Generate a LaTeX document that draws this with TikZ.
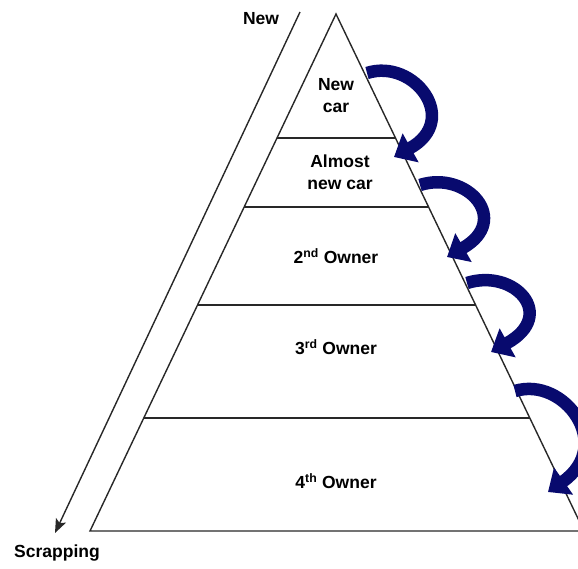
\documentclass[tikz,border=0pt]{standalone}
\usepackage{fontspec}
\setmainfont{Liberation Sans}
\usetikzlibrary{arrows.meta}
\definecolor{navyarrow}{RGB}{8,10,110}
\definecolor{edgegray}{RGB}{40,40,40}
\begin{document}
\begin{tikzpicture}[x=1pt,y=-1pt,
  lab/.style={font=\fontsize{17.5}{22}\selectfont\bfseries, align=center, inner sep=0pt},
  edge/.style={draw=edgegray, line width=1.4pt},
  turn/.style={draw=navyarrow, line width=12.5pt, -{Triangle[length=19pt,width=32pt]}}
]
\useasboundingbox (0,0) rectangle (578,568);
% triangle
\coordinate (apex) at (336,14);
\coordinate (bl) at (90,531);
\coordinate (br) at (584,531);
\draw[edge, line join=miter] (bl) -- (apex) -- (br) -- cycle;
% horizontal dividers
\coordinate (l1) at (277,138); \coordinate (r1) at (396,138);
\coordinate (l2) at (244,207); \coordinate (r2) at (429,207);
\coordinate (l3) at (197,305); \coordinate (r3) at (476,305);
\coordinate (l4) at (144,418); \coordinate (r4) at (530,418);
\draw[edge] (l1) -- (r1);
\draw[edge] (l2) -- (r2);
\draw[edge] (l3) -- (r3);
\draw[edge] (l4) -- (r4);
% labels
\node[lab] (t1) at (336,96) {New\\car};
\node[lab] (t2) at (340,172) {Almost\\new car};
\node[lab] (t3) at (336,256) {2\textsuperscript{nd} Owner};
\node[lab] (t4) at (336,347) {3\textsuperscript{rd} Owner};
\node[lab] (t5) at (336,481) {4\textsuperscript{th} Owner};
% time axis
\node[lab] (new) at (261,19) {New};
\node[lab] (scrap) at (57,553) {Scrapping};
\coordinate (axtop) at (300,12);
\coordinate (axbot) at (55,533);
\draw[edge, -{Stealth[length=14pt,width=11pt,inset=3pt]}] (axtop) -- (axbot);
% curved arrows
\coordinate (s1) at (367,73);  \coordinate (e1) at (394,157);
\coordinate (s2) at (420,185); \coordinate (e2) at (447,257);
\coordinate (s3) at (467,283); \coordinate (e3) at (491,352);
\coordinate (s4) at (515,391); \coordinate (e4) at (548,492);
\draw[turn] (s1) .. controls (414,58) and (461,120) .. (e1);
\draw[turn] (s2) .. controls (467,170) and (512,220) .. (e2);
\draw[turn] (s3) .. controls (514,268) and (558,315) .. (e3);
\draw[turn] (s4) .. controls (564,376) and (615,445) .. (e4);
\end{tikzpicture}
\end{document}
